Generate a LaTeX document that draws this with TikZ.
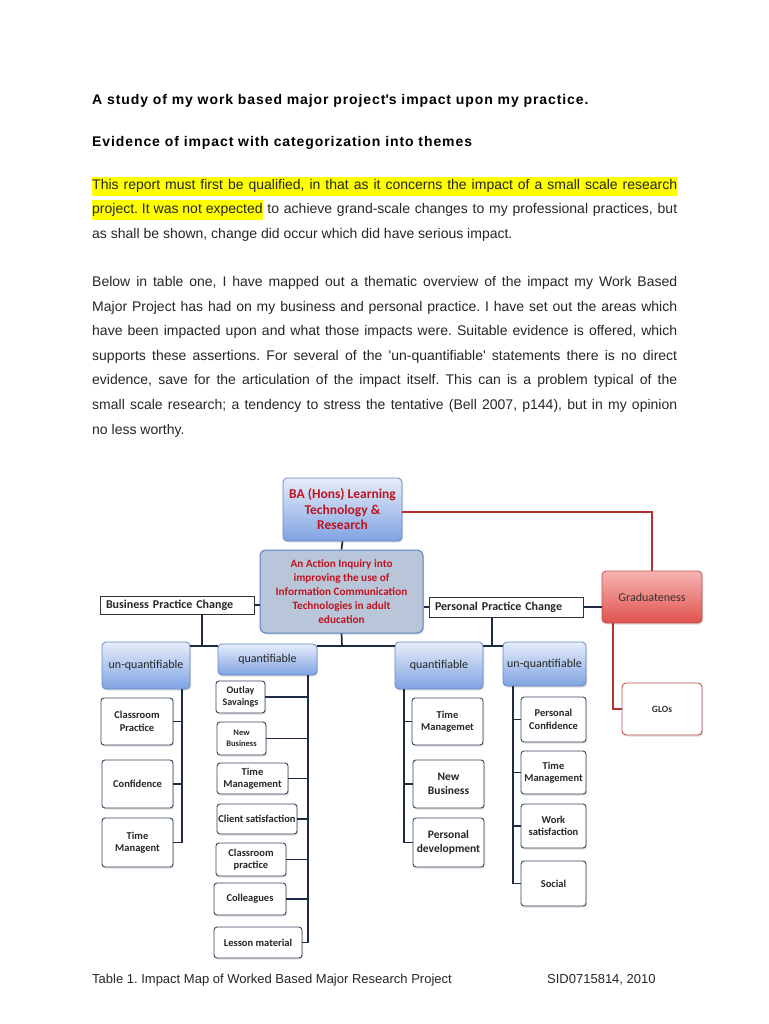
\documentclass[tikz,border=0pt]{standalone}
\usepackage{fontspec}
\setmainfont{Liberation Sans}
\newfontfamily\carl{Carlito}
\newfontfamily\headfont[LetterSpace=6.5]{Liberation Sans}
\usetikzlibrary{shadows}
\definecolor{txt}{HTML}{262626}
\definecolor{hl}{HTML}{FFFF00}
\definecolor{navy}{HTML}{1C2A44}
\definecolor{redl}{HTML}{B3302C}
\definecolor{redt}{HTML}{BE1420}
\definecolor{blueT}{HTML}{E6EDFA}
\definecolor{blueD}{HTML}{7FA3E2}
\definecolor{blueB}{HTML}{6688C8}
\definecolor{actF}{HTML}{B9C6D9}
\definecolor{actB}{HTML}{5A82C2}
\definecolor{gradT}{HTML}{F8B4B2}
\definecolor{gradD}{HTML}{E0524E}
\definecolor{gradB}{HTML}{C0504D}
\definecolor{childB}{HTML}{34465C}
\newcommand\myjust[1]{\makebox[585pt][s]{#1}}
\frenchspacing
\tikzset{
  body/.style={inner sep=0pt, anchor=base west, text=txt, font=\frenchspacing\fontsize{14}{16}\selectfont},
  head/.style={inner sep=0pt, anchor=base west, text=black, font=\headfont\bfseries\fontsize{14}{16}\selectfont},
  conn/.style={draw=navy, line width=1.7pt},
  redconn/.style={draw=redl, line width=1.8pt},
  shad/.style={drop shadow={opacity=0.25, shadow xshift=1pt, shadow yshift=-1.5pt}},
  bluebox/.style={shad, rounded corners=4pt, draw=blueB, line width=0.8pt, top color=blueT, bottom color=blueD, inner sep=0pt, align=center, text=black!85, font=\carl\fontsize{12}{13}\selectfont},
  childbox/.style={shad, rounded corners=3pt, draw=childB, line width=0.9pt, fill=white, inner sep=0pt, align=center, text=black!85, font=\carl\bfseries\fontsize{10.5}{12.5}\selectfont},
  labelbox/.style={draw=black!80, line width=0.7pt, fill=white, inner sep=0pt, text=black!85, font=\carl\bfseries\fontsize{12}{13}\selectfont},
}
\begin{document}
\begin{tikzpicture}[x=1pt,y=-1pt]
\useasboundingbox (0,0) rectangle (768,1024);
\fill[white] (0,0) rectangle (768,1024);

% headings
\node[head] (h1) at (92,105) {A study of my work based major project\textquotesingle s impact upon my practice.};
\node[head] (h2) at (92,146.5) {Evidence of impact with categorization into themes};

% paragraph 1
\node[body] (p1a) at (92,190) {\fboxsep=0pt\colorbox{hl}{\rule[-6pt]{0pt}{19.5pt}\myjust{This report must first be qualified, in that as it concerns the impact of a small scale research}}};
\node[body] (p1b) at (92,214) {\fboxsep=0pt\myjust{\colorbox{hl}{\rule[-6pt]{0pt}{19.5pt}project. It was not expected} to achieve grand-scale changes to my professional practices, but}};
\node[body] (p1c) at (92,238.5) {as shall be shown, change did occur which did have serious impact.};

% paragraph 2
\node[body] (p2a) at (92,286.5) {\myjust{Below in table one, I have mapped out a thematic overview of the impact my Work Based}};
\node[body] (p2b) at (92,311) {\myjust{Major Project has had on my business and personal practice. I have set out the areas which}};
\node[body] (p2c) at (92,335.5) {\myjust{have been impacted upon and what those impacts were. Suitable evidence is offered, which}};
\node[body] (p2d) at (92,360) {\myjust{supports these assertions. For several of the \textquotesingle un-quantifiable\textquotesingle{} statements there is no direct}};
\node[body] (p2e) at (92,384.5) {\myjust{evidence, save for the articulation of the impact itself. This can is a problem typical of the}};
\node[body] (p2f) at (92,409) {\myjust{small scale research; a tendency to stress the tentative (Bell 2007, p144), but in my opinion}};
\node[body] (p2g) at (92,434) {no less worthy.};

% top nodes
\node[bluebox, minimum width=119pt, minimum height=63pt, text=redt, font=\carl\bfseries\fontsize{13.5}{15.5}\selectfont] (ba) at (342.5,509.5) {BA (Hons) Learning\\Technology \&\\Research};
\node[shad, rounded corners=6pt, draw=actB, line width=1pt, fill=actF, inner sep=0pt, align=center, text=redt, font=\carl\bfseries\fontsize{11.2}{14}\selectfont, minimum width=163pt, minimum height=83pt] (act) at (341.5,591.5) {An Action Inquiry into\\improving the use of\\Information Communication\\Technologies in adult\\education};
\node[labelbox, minimum width=154pt, minimum height=18pt, text width=142pt, align=left] (bpc) at (177,605) {Business Practice Change};
\node[labelbox, minimum width=154pt, minimum height=20pt, text width=142pt, align=left] (ppc) at (506,607) {Personal Practice Change};
\node[shad, rounded corners=4pt, draw=gradB, line width=0.8pt, top color=gradT, bottom color=gradD, inner sep=0pt, text=black!80, font=\carl\fontsize{12}{13}\selectfont, minimum width=100pt, minimum height=52pt] (grad) at (652,597) {Graduateness};
\node[shad, rounded corners=4pt, draw=gradB, line width=0.9pt, fill=white, inner sep=0pt, text=black!80, font=\carl\bfseries\fontsize{9.5}{11}\selectfont, minimum width=80pt, minimum height=52pt] (glo) at (662,709) {GLOs};

% category boxes
\node[bluebox, minimum width=88pt, minimum height=47pt] (bu) at (146,665.5) {un-quantifiable};
\node[bluebox, minimum width=99pt, minimum height=31pt] (bq) at (267.5,659.5) {quantifiable};
\node[bluebox, minimum width=88pt, minimum height=47pt] (pq) at (439,665.5) {quantifiable};
\node[bluebox, minimum width=83pt, minimum height=44pt] (pu) at (544.5,664) {un-quantifiable};

% business un-quantifiable children
\node[childbox, minimum width=72pt, minimum height=47pt] (bu1) at (137,721.5) {Classroom\\Practice};
\node[childbox, minimum width=71pt, minimum height=48pt] (bu2) at (137.5,784) {Confidence};
\node[childbox, minimum width=71pt, minimum height=49pt] (bu3) at (137.5,842.5) {Time\\Managent};

% business quantifiable children
\node[childbox, minimum width=49pt, minimum height=32pt, font=\carl\bfseries\fontsize{10}{12}\selectfont] (bq1) at (240.5,697) {Outlay\\Savaings};
\node[childbox, minimum width=49pt, minimum height=33pt, font=\carl\bfseries\fontsize{8.5}{11}\selectfont] (bq2) at (241.5,738.5) {New\\Business};
\node[childbox, minimum width=71pt, minimum height=31pt] (bq3) at (252.5,778.5) {Time\\Management};
\node[childbox, minimum width=80pt, minimum height=30pt] (bq4) at (257,819) {Client satisfaction};
\node[childbox, minimum width=70pt, minimum height=33pt] (bq5) at (251,859.5) {Classroom\\practice};
\node[childbox, minimum width=72pt, minimum height=32pt] (bq6) at (250,899) {Colleagues};
\node[childbox, minimum width=88pt, minimum height=31pt] (bq7) at (258,942.5) {Lesson material};

% personal quantifiable children
\node[childbox, minimum width=71pt, minimum height=47pt] (pq1) at (447.5,721.5) {Time\\Managemet};
\node[childbox, minimum width=71pt, minimum height=48pt, font=\carl\bfseries\fontsize{11.5}{14}\selectfont] (pq2) at (448.5,784) {New\\Business};
\node[childbox, minimum width=71pt, minimum height=49pt, font=\carl\bfseries\fontsize{11.5}{14}\selectfont] (pq3) at (448.5,842.5) {Personal\\development};

% personal un-quantifiable children
\node[childbox, minimum width=65pt, minimum height=45pt] (pu1) at (553.5,719.5) {Personal\\Confidence};
\node[childbox, minimum width=65pt, minimum height=43pt] (pu2) at (553.5,772.5) {Time\\Management};
\node[childbox, minimum width=65pt, minimum height=44pt] (pu3) at (553.5,826) {Work\\satisfaction};
\node[childbox, minimum width=65pt, minimum height=45pt] (pu4) at (553.5,883.5) {Social};

% connectors
\draw[conn] (ba.south) -- (act.north);
\draw[conn] (bpc.east) -- (bpc.east -| act.west);
\draw[conn] (ppc.west) -- (ppc.west -| act.east);
\draw[conn] (ppc.east) -- (ppc.east -| grad.west);
\coordinate (bj) at (202,646);
\draw[conn] (bpc.south -| bj) -- (bj);
\draw[conn] (bj -| bu.east) -- (bj -| bq.west);
\coordinate (aj) at (342,646);
\draw[conn] (act.south) -- (aj);
\draw[conn] (aj -| bq.east) -- (aj -| pq.west);
\coordinate (pj) at (492,646);
\draw[conn] (ppc.south -| pj) -- (pj);
\draw[conn] (pj -| pq.east) -- (pj -| pu.west);

\coordinate (bux) at (182,0);
\draw[conn] (bu.south -| bux) -- (bu3.east -| bux);
\foreach \c in {bu1,bu2,bu3} \draw[conn] (\c.east) -- (\c.east -| bux);
\coordinate (bqx) at (308,0);
\draw[conn] (bq.south -| bqx) -- (bq7.east -| bqx);
\foreach \c in {bq1,bq2,bq3,bq4,bq5,bq6,bq7} \draw[conn] (\c.east) -- (\c.east -| bqx);
\coordinate (pqx) at (404,0);
\draw[conn] (pq.south -| pqx) -- (pq3.west -| pqx);
\foreach \c in {pq1,pq2,pq3} \draw[conn] (\c.west) -- (\c.west -| pqx);
\coordinate (pux) at (513,0);
\draw[conn] (pu.south -| pux) -- (pu4.west -| pux);
\foreach \c in {pu1,pu2,pu3,pu4} \draw[conn] (\c.west) -- (\c.west -| pux);

\coordinate (ry) at (0,512);
\draw[redconn] (ba.east |- ry) -| (grad.north);
\coordinate (gx) at (613,0);
\draw[redconn] (grad.south -| gx) |- (glo.west);

% caption
\node[body, font=\frenchspacing\fontsize{13}{15}\selectfont] (cap) at (92,983) {Table 1. Impact Map of Worked Based Major Research Project};
\node[body, font=\frenchspacing\fontsize{13}{15}\selectfont] (sid) at (547,983) {SID0715814, 2010};
\end{tikzpicture}
\end{document}
